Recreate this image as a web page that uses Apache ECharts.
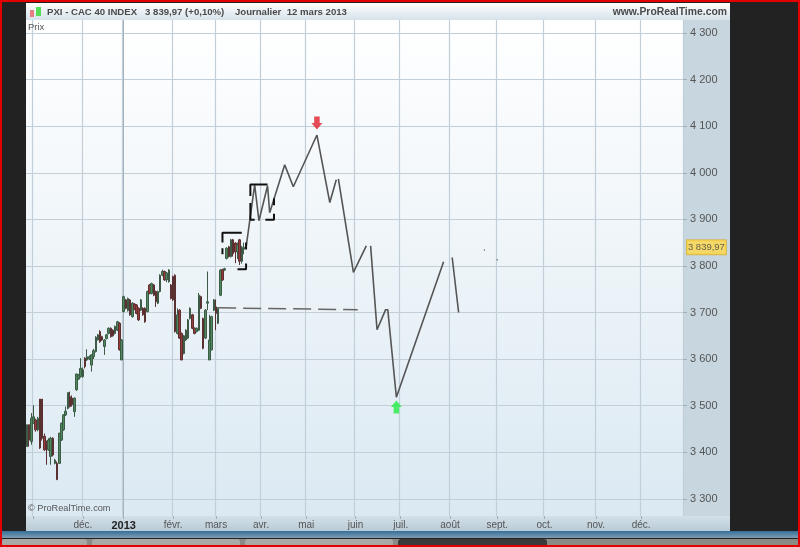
<!DOCTYPE html>
<html><head><meta charset="utf-8">
<style>html,body{margin:0;padding:0;background:#222}#c{width:800px;height:547px}</style>
<script src="https://cdn.jsdelivr.net/npm/echarts@6/dist/echarts.min.js"></script>
</head><body><div id="c"></div>
<script>
const barCount = 306;
const monthIndex = [3,26,45,68,88,109,130,153,174,197,219,241,265,286];
const monthLabels = ['','déc.','2013','févr.','mars','avr.','mai','juin','juil.','août','sept.','oct.','nov.','déc.'];
const yearIndex = 45;
const yTicks = [3300,3400,3500,3600,3700,3800,3900,4000,4100,4200,4300];
// [open, close, low, high]
const ohlc = [
[3412,3459,3412,3459],[3459,3426,3412,3459],[3423,3473,3416,3484],[3462,3476,3462,3501],[3469,3448,3444,3472],
[3448,3473,3445,3476],[3514,3409,3407,3514],[3514,3430,3425,3514],[3434,3405,3403,3440],[3420,3416,3373,3425],
[3405,3426,3403,3430],[3391,3430,3373,3433],[3430,3394,3391,3432],[3376,3383,3374,3386],[3376,3341,3341,3380],
[3376,3441,3376,3441],[3426,3462,3424,3464],[3448,3480,3446,3482],[3480,3488,3478,3498],[3494,3528,3492,3528],
[3519,3498,3496,3530],[3516,3502,3498,3522],[3487,3516,3476,3518],[3534,3568,3532,3568],[3557,3566,3555,3568],
[3562,3580,3560,3602],[3562,3577,3560,3582],[3602,3584,3580,3604],[3598,3605,3596,3621],[3600,3605,3598,3608],
[3587,3609,3573,3610],[3605,3618,3600,3622],[3616,3647,3614,3649],[3641,3652,3640,3654],[3659,3637,3635,3662],[3648,3641,3639,3650],
[3627,3641,3609,3643],[3644,3652,3642,3654],[3655,3666,3653,3668],[3666,3648,3646,3668],[3662,3650,3648,3664],
[3655,3670,3653,3672],[3662,3680,3660,3682],[3677,3620,3618,3679],[3598,3641,3598,3643],[3702,3734,3700,3736],
[3727,3709,3707,3729],[3704,3730,3702,3732],[3727,3695,3693,3729],[3691,3720,3689,3722],[3718,3707,3705,3720],
[3716,3698,3696,3718],[3709,3684,3682,3711],[3705,3727,3703,3729],[3709,3695,3693,3711],[3709,3680,3678,3711],
[3702,3745,3700,3747],[3759,3741,3739,3761],[3741,3762,3739,3764],[3759,3737,3735,3761],[3745,3723,3712,3747],
[3720,3745,3718,3747],[3745,3780,3743,3782],[3780,3788,3778,3792],[3788,3770,3768,3790],[3770,3785,3765,3787],
[3766,3791,3764,3793],[3759,3730,3728,3761],[3777,3727,3725,3779],[3780,3659,3657,3782],[3655,3695,3653,3709],
[3705,3645,3643,3707],[3655,3598,3598,3657],[3612,3650,3610,3652],[3641,3662,3639,3664],[3645,3684,3643,3686],
[3687,3709,3685,3711],[3695,3666,3664,3697],[3666,3655,3653,3668],[3659,3666,3657,3668],
[3662,3737,3660,3742],[3734,3709,3707,3736],[3687,3623,3621,3689],[3645,3705,3643,3707],[3720,3723,3705,3788],
[3598,3641,3598,3695],[3620,3691,3618,3693],[3705,3727,3703,3729],[3712,3698,3662,3728],[3677,3709,3675,3711],
[3737,3791,3735,3793],[3792,3770,3768,3794],[3791,3794,3789,3796],[3816,3838,3814,3840],[3841,3820,3818,3843],
[3820,3856,3818,3858],[3856,3826,3820,3858],[3849,3830,3806,3851],[3830,3845,3815,3850],[3856,3810,3802,3858],
[3810,3840,3805,3843],[3836,3840,3825,3850]
];
const projection = [[102,3840],[106,3974],[108,3897],[112,3972],[113,3914],[120,4017],[124,3970],[135,4081],[141,3936],[144,3985],[144,'-'],
[145,3987],[152,3786],[158,3843],[158,'-'],[160,3843],[163,3663],[167,3706],[168,3706],[172,3518],[194,3809],[194,'-'],[198,3818],[201,3700]];
const neckline = [[89,3710],[154,3706]];
const boxes = [[91,3850],[91,3871],[100,3871],[100,'-'],[91,3838],[91,3825],[91,'-'],[98,3793],[102,3793],[102,3805],[102,'-'],[102,3835],[102,3850],[102,'-'],
[104,3950],[104,3975],[112,3975],[112,'-'],[104,3935],[104,3899],[106,3899],[106,'-'],[111,3899],[115,3899],[115,3912],[115,'-'],[115,3930],[115,3945]];
const sellArrow = [[135,4107]];
const buyArrow = [[172,3497]];
const dots = [[213,3834],[219,3813]];
const lastPrice = [[305,3839.97]];
const lastPriceLabel = '3 839,97';
const titleText = 'PXI - CAC 40 INDEX   3 839,97 (+0,10%)    Journalier  12 mars 2013';
const siteText = 'www.ProRealTime.com';
const categories = Array.from({length: barCount}, (_, i) => String(i));
const isMonth = i => monthIndex.includes(i);
const fmtY = v => { const s = String(v); return s[0] + ' ' + s.slice(1); };
const font = '"Liberation Sans", Arial, sans-serif';
const LG = (a, b) => new echarts.graphic.LinearGradient(0, 0, 0, 1, [{offset: 0, color: a}, {offset: 1, color: b}]);
const rect = (x, y, w, h, fill, r) => ({type: 'rect', silent: true, z: -10, shape: {x, y, width: w, height: h, r: r || 0}, style: {fill}});
const chart = echarts.init(document.getElementById('c'), null, {renderer: 'canvas', width: 800, height: 547});
chart.setOption({
  animation: false,
  backgroundColor: '#222222',
  graphic: {elements: [
    rect(0, 0, 800, 547, '#e30000'),
    rect(2, 2, 796, 543, '#222222'),
    rect(26, 3, 704, 17, LG('#ffffff', '#d6e2e9')),
    rect(683, 20, 47, 496, '#c7d6df'),
    rect(26, 516, 704, 15, LG('#d3e0e8', '#b9cbd6')),
    rect(2, 531, 796, 7, LG('#356e98', '#7f9db3')),
    rect(2, 539, 796, 6, '#8b8b86'),
    rect(2, 539, 85, 6, '#a9a9a6', [3,3,0,0]),
    rect(92, 539, 148, 6, '#a9a9a6', [3,3,0,0]),
    rect(245, 539, 148, 6, '#a9a9a6', [3,3,0,0]),
    rect(398, 539, 149, 6, '#3a3a3a', [3,3,0,0]),
    rect(30, 10, 4, 7, '#e58080'),
    rect(36, 7, 5, 9, '#55dd55'),
    {type: 'text', silent: true, z: 5, x: 47, y: 12, style: {text: titleText, font: 'bold 9.6px ' + font, fill: '#4a4a4a', verticalAlign: 'middle'}},
    {type: 'text', silent: true, z: 5, x: 727, y: 12, style: {text: siteText, font: 'bold 10.4px ' + font, fill: '#4a4a4a', align: 'right', verticalAlign: 'middle'}},
    {type: 'text', silent: true, z: 5, x: 28, y: 27, style: {text: 'Prix', font: '9.5px ' + font, fill: '#555', verticalAlign: 'middle'}},
    {type: 'text', silent: true, z: 5, x: 28, y: 508, style: {text: '© ProRealTime.com', font: '9.2px ' + font, fill: '#555', verticalAlign: 'middle'}}
  ]},
  grid: {left: 26, right: 117, top: 20, bottom: 31, show: true, borderWidth: 0, backgroundColor: LG('#ffffff', '#dbe9f2')},
  xAxis: {
    type: 'category', data: categories, boundaryGap: true,
    axisLine: {show: false},
    axisTick: {show: true, alignWithLabel: true, length: 3, interval: isMonth, lineStyle: {color: '#9fb0bb'}},
    axisLabel: {interval: isMonth, margin: 4, fontFamily: font, fontSize: 10, color: '#555', hideOverlap: false, showMinLabel: true,
      formatter: (v, i) => { const k = monthIndex.indexOf(Number(v)); const t = k < 0 ? '' : monthLabels[k]; return t === '2013' ? '{y|2013}' : t; },
      rich: {y: {fontFamily: font, fontSize: 11, fontWeight: 'bold', color: '#222'}}},
    splitLine: {show: true, interval: isMonth, lineStyle: {color: '#c2cfd9', width: 1.2}}
  },
  yAxis: {
    type: 'value', position: 'right', min: 3263, max: 4328, scale: true,
    axisLine: {show: false},
    axisTick: {show: true, customValues: yTicks, inside: false, length: 4, lineStyle: {color: '#9fb0bb'}},
    axisLabel: {customValues: yTicks, margin: 7, fontFamily: font, fontSize: 11, color: '#555', formatter: v => fmtY(v)},
    splitLine: {show: true, lineStyle: {color: '#c2cfd9', width: 1.2}}
  },
  series: [
    {type: 'candlestick', name: 'CAC 40', data: ohlc, barWidth: 2, z: 3,
      itemStyle: {color: '#4d8a5c', color0: '#9a3a3a', borderColor: '#3c5a45', borderColor0: '#5a3030', borderWidth: 1},
      markLine: {silent: true, symbol: 'none', label: {show: false}, animation: false, z: 1,
        lineStyle: {color: '#a4b3be', width: 1, type: 'solid'}, data: [{xAxis: yearIndex}]}},
    {type: 'line', name: 'projection', data: projection, showSymbol: false, connectNulls: false, z: 4,
      lineStyle: {color: '#555', width: 1.6}, itemStyle: {color: '#555'}},
    {type: 'line', name: 'neckline', data: neckline, showSymbol: false, z: 4,
      lineStyle: {color: '#666', width: 1.5, type: [18, 7]}},
    {type: 'line', name: 'boxes', data: boxes, showSymbol: false, connectNulls: false, z: 5,
      lineStyle: {color: '#111', width: 2}},
    {type: 'scatter', name: 'sell', data: sellArrow, z: 6, symbolSize: [11, 13], symbol: 'path://M2.5 0H7.5V6H10L5 12L0 6H2.5Z', itemStyle: {color: '#e0202a'}},
    {type: 'scatter', name: 'buy', data: buyArrow, z: 6, symbolSize: [11, 13], symbol: 'path://M5 0L10 6H7.5V12H2.5V6H0Z', itemStyle: {color: '#22ee44'}},
    {type: 'scatter', name: 'dots', data: dots, z: 3, symbolSize: 1.5, itemStyle: {color: '#444'}},
    {type: 'scatter', name: 'last', data: lastPrice, z: 7, symbolSize: 0, clip: false,
      label: {show: true, position: 'right', distance: 5, formatter: lastPriceLabel, fontFamily: font, fontSize: 9.5, color: '#444',
        backgroundColor: '#ffd84a', padding: [2, 1, 2, 1], borderColor: '#d8b030', borderWidth: 1}}
  ]
});
</script></body></html>
